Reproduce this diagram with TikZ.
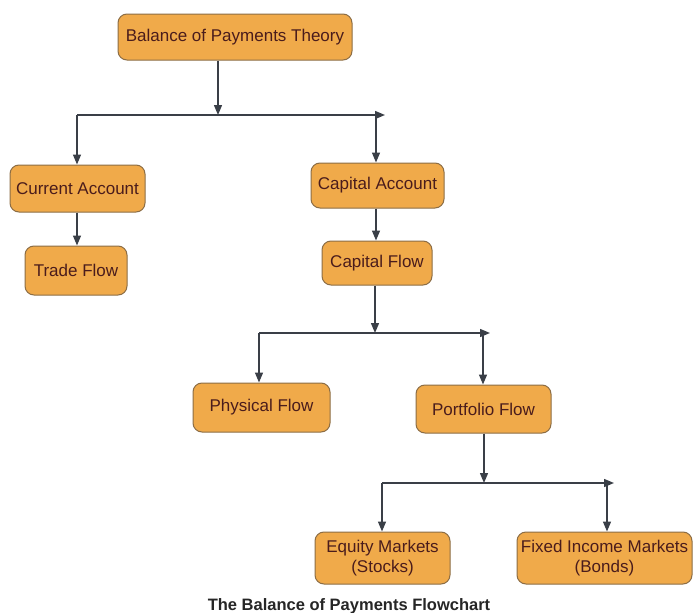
\documentclass[tikz,border=0pt]{standalone}
\usepackage{fontspec}
\setmainfont{Liberation Sans}
\usetikzlibrary{arrows.meta}
\definecolor{boxfill}{HTML}{F0AA4A}
\definecolor{boxline}{HTML}{8C6D45}
\definecolor{boxtext}{HTML}{4A1C1C}
\definecolor{wirecol}{HTML}{3A3F47}
\begin{document}
\begin{tikzpicture}[x=1pt,y=-1pt,
  box/.style={draw=boxline, line width=1pt, fill=boxfill, rounded corners=9pt,
    text=boxtext, font=\fontsize{17}{19.5}\selectfont, align=center, inner sep=0pt},
  wire/.style={draw=wirecol, line width=1.4pt},
  arr/.style={wire, -{Triangle[length=10pt,width=8pt]}}]
\useasboundingbox[fill=white] (0,0) rectangle (694,613);

\node[box, minimum width=234pt, minimum height=46pt] (bop) at (235,37) {Balance of Payments Theory};
\node[box, minimum width=135pt, minimum height=47pt] (ca) at (77.5,188.5) {Current Account};
\node[box, minimum width=102pt, minimum height=49pt] (tf) at (76,270.5) {Trade Flow};
\node[box, minimum width=133pt, minimum height=45pt] (kap) at (377.5,185.5) {Capital Account};
\node[box, minimum width=110pt, minimum height=44pt] (kf) at (377,263) {Capital Flow};
\node[box, minimum width=137pt, minimum height=49pt] (pf) at (261.5,407.5) {Physical Flow};
\node[box, minimum width=135pt, minimum height=48pt] (pof) at (483.5,409) {Portfolio Flow};
\node[box, minimum width=135pt, minimum height=52pt] (eq) at (382.5,558) {Equity Markets\\(Stocks)};
\node[box, minimum width=175pt, minimum height=52pt] (fi) at (604.5,558) {Fixed Income Markets\\(Bonds)};

% bus 1
\coordinate (b1) at (218,115);
\coordinate (b1l) at (77,115);
\coordinate (b1r) at (385,115);
\coordinate (b1k) at (376,115);
\draw[arr] (bop.south -| b1) -- (b1);
\draw[arr] (b1l) -- (b1r);
\draw[arr] (b1l) -- (b1l |- ca.north);
\draw[arr] (b1k) -- (b1k |- kap.north);

\draw[arr] (ca.south -| b1l) -- (b1l |- tf.north);
\draw[arr] (kap.south -| b1k) -- (b1k |- kf.north);

% bus 2
\coordinate (b2) at (375,333);
\coordinate (b2l) at (259,333);
\coordinate (b2r) at (490,333);
\coordinate (b2p) at (483,333);
\draw[arr] (kf.south -| b2) -- (b2);
\draw[arr] (b2l) -- (b2r);
\draw[arr] (b2l) -- (b2l |- pf.north);
\draw[arr] (b2p) -- (b2p |- pof.north);

% bus 3
\coordinate (b3) at (484,483);
\coordinate (b3l) at (382,483);
\coordinate (b3r) at (614,483);
\coordinate (b3f) at (607,483);
\draw[arr] (pof.south -| b3) -- (b3);
\draw[arr] (b3l) -- (b3r);
\draw[arr] (b3l) -- (b3l |- eq.north);
\draw[arr] (b3f) -- (b3f |- fi.north);

\node[font=\bfseries\fontsize{16.5}{19}\selectfont, text=black!85, anchor=base, inner sep=0pt] (cap) at (349,610) {The Balance of Payments Flowchart};
\end{tikzpicture}
\end{document}
